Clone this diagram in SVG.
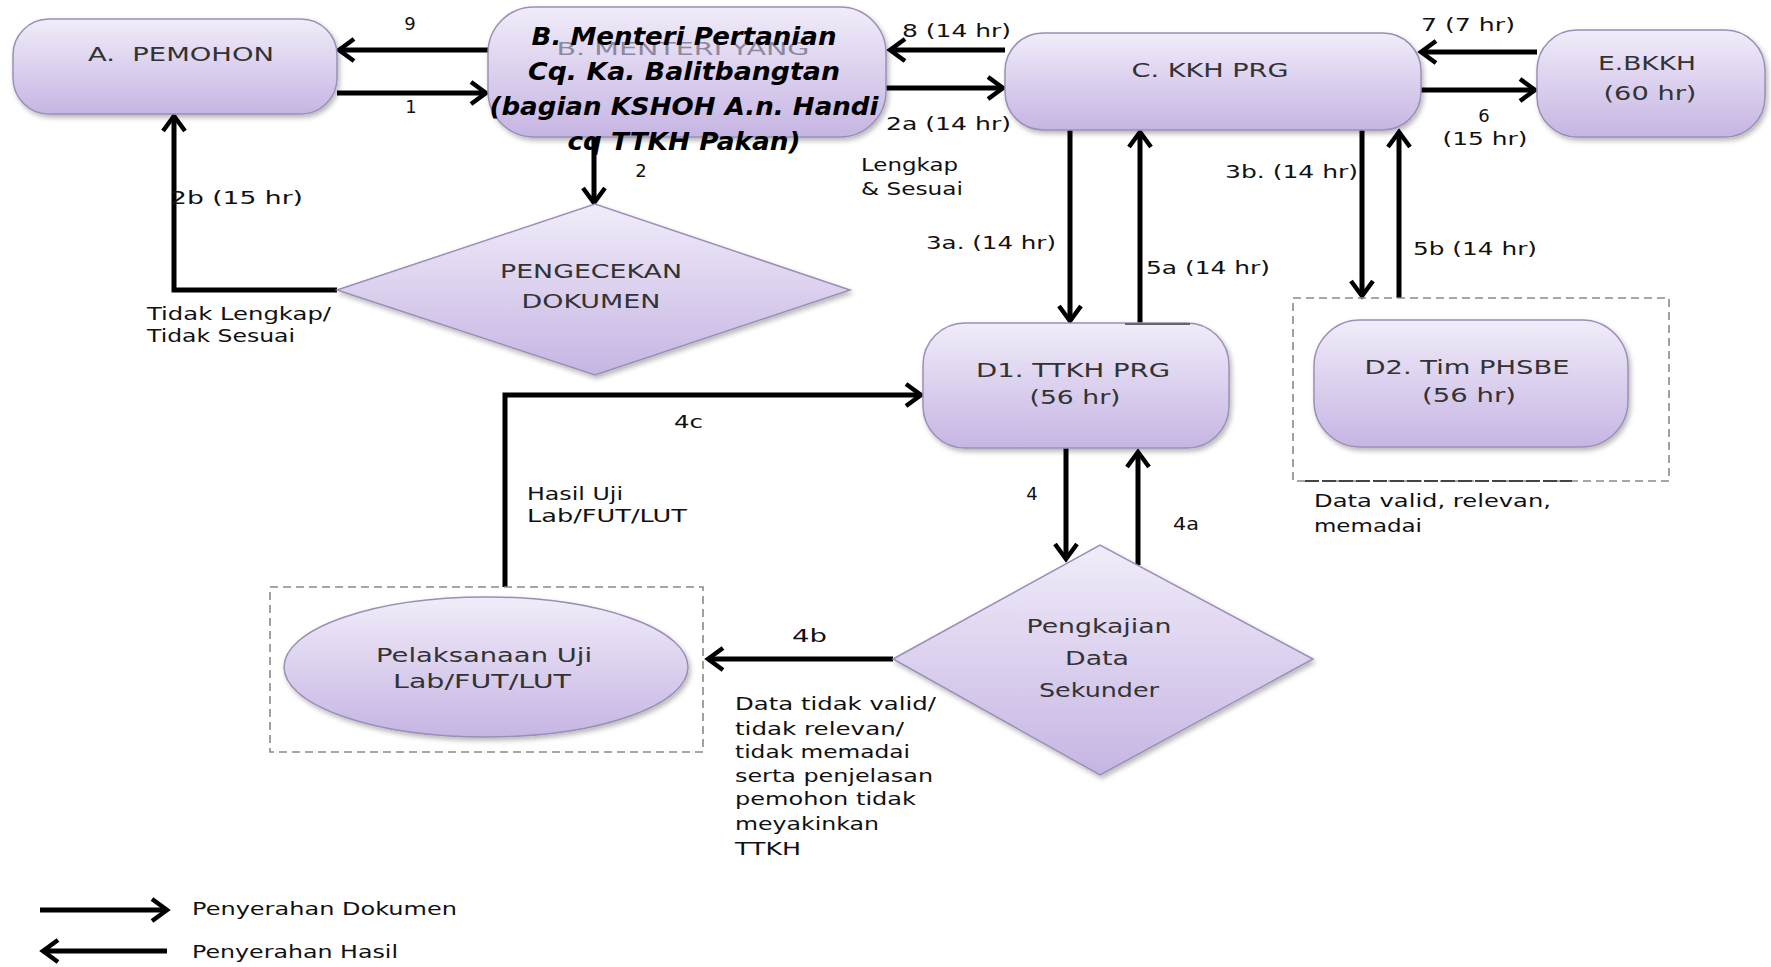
<svg xmlns="http://www.w3.org/2000/svg" width="1771" height="967" viewBox="0 0 1771 967">
<defs>
<linearGradient id="g" x1="0" y1="0" x2="0" y2="1">
<stop offset="0" stop-color="#f1ecf9"/>
<stop offset="1" stop-color="#c6b5e3"/>
</linearGradient>
<filter id="sh" x="-10%" y="-10%" width="125%" height="135%">
<feDropShadow dx="2" dy="3" stdDeviation="2.5" flood-color="#000" flood-opacity="0.28"/>
</filter>
<marker id="ah" markerUnits="userSpaceOnUse" markerWidth="26" markerHeight="30" refX="20" refY="15" orient="auto" overflow="visible">
<path d="M5,4 L20,15 L5,26" fill="none" stroke="#000" stroke-width="4.5"/>
</marker>
<style>
.node{fill:url(#g);stroke:#9a8fb6;stroke-width:1.5;filter:url(#sh)}
.nt{font-family:"DejaVu Sans",Verdana,sans-serif;font-size:19px;fill:#333}
.lb{font-family:"DejaVu Sans",Verdana,sans-serif;font-size:18px;fill:#111}
.bt{font-family:"DejaVu Sans",Verdana,sans-serif;font-size:25px;font-weight:bold;font-style:italic;fill:#000}
.ft{font-family:"DejaVu Sans",Verdana,sans-serif;font-size:18px;fill:#8d87a0}
.c{fill:none;stroke:#000;stroke-width:5;marker-end:url(#ah)}
.dash{fill:none;stroke:#8a8a8a;stroke-width:1.6;stroke-dasharray:8 5}
</style>
</defs>
<rect width="1771" height="967" fill="#fff"/>

<g id="connectors">
<path class="c" d="M488,50 L339,50"/>
<path class="c" d="M337,93 L486,93"/>
<path class="c" d="M594,137 L594,203"/>
<path class="c" d="M337,290 L174,290 L174,116"/>
<path class="c" d="M1005,50 L890,50"/>
<path class="c" d="M886,88 L1003,88"/>
<path class="c" d="M1537,52 L1421,52"/>
<path class="c" d="M1421,90 L1535,90"/>
<path class="c" d="M1070,130 L1070,321"/>
<path class="c" d="M1140,323 L1140,132"/>
<path class="c" d="M1362,130 L1362,296"/>
<path class="c" d="M1399,298 L1399,132"/>
<path class="c" d="M1066,448 L1066,559"/>
<path class="c" d="M1138,565 L1138,452"/>
<path class="c" d="M893,659 L708,659"/>
<path class="c" d="M505,587 L505,395 L921,395"/>
<path class="c" d="M40,910 L167,910"/>
<path class="c" d="M167,951 L43,951"/>
</g>

<g id="labels">
<text class="lb" x="410" y="30" text-anchor="middle">9</text>
<text class="lb" x="411" y="113" text-anchor="middle">1</text>
<text class="lb" x="641" y="177" text-anchor="middle">2</text>
<text class="lb" x="170" y="204" textLength="133" lengthAdjust="spacingAndGlyphs">2b (15 hr)</text>
<text class="lb" x="147" y="320" textLength="184" lengthAdjust="spacingAndGlyphs">Tidak Lengkap/</text>
<text class="lb" x="147" y="342" textLength="148" lengthAdjust="spacingAndGlyphs">Tidak Sesuai</text>
<text class="lb" x="902" y="37" textLength="109" lengthAdjust="spacingAndGlyphs">8 (14 hr)</text>
<text class="lb" x="886" y="130" textLength="125" lengthAdjust="spacingAndGlyphs">2a (14 hr)</text>
<text class="lb" x="861" y="171" textLength="97" lengthAdjust="spacingAndGlyphs">Lengkap</text>
<text class="lb" x="861" y="195" textLength="102" lengthAdjust="spacingAndGlyphs">&amp; Sesuai</text>
<text class="lb" x="1421" y="31" textLength="94" lengthAdjust="spacingAndGlyphs">7 (7 hr)</text>
<text class="lb" x="1484" y="122" text-anchor="middle">6</text>
<text class="lb" x="1485" y="145" text-anchor="middle" textLength="85" lengthAdjust="spacingAndGlyphs">(15 hr)</text>
<text class="lb" x="926" y="249" textLength="130" lengthAdjust="spacingAndGlyphs">3a. (14 hr)</text>
<text class="lb" x="1146" y="274" textLength="124" lengthAdjust="spacingAndGlyphs">5a (14 hr)</text>
<text class="lb" x="1225" y="178" textLength="133" lengthAdjust="spacingAndGlyphs">3b. (14 hr)</text>
<text class="lb" x="1413" y="255" textLength="124" lengthAdjust="spacingAndGlyphs">5b (14 hr)</text>
<text class="lb" x="1032" y="500" text-anchor="middle">4</text>
<text class="lb" x="1173" y="530" textLength="26" lengthAdjust="spacingAndGlyphs">4a</text>
<text class="lb" x="1314" y="507" textLength="237" lengthAdjust="spacingAndGlyphs">Data valid, relevan,</text>
<text class="lb" x="1314" y="532" textLength="108" lengthAdjust="spacingAndGlyphs">memadai</text>
<text class="lb" x="792" y="642" textLength="35" lengthAdjust="spacingAndGlyphs">4b</text>
<text class="lb" x="735" y="710" textLength="201" lengthAdjust="spacingAndGlyphs">Data tidak valid/</text>
<text class="lb" x="735" y="735" textLength="169" lengthAdjust="spacingAndGlyphs">tidak relevan/</text>
<text class="lb" x="735" y="758" textLength="175" lengthAdjust="spacingAndGlyphs">tidak memadai</text>
<text class="lb" x="735" y="782" textLength="198" lengthAdjust="spacingAndGlyphs">serta penjelasan</text>
<text class="lb" x="735" y="805" textLength="181" lengthAdjust="spacingAndGlyphs">pemohon tidak</text>
<text class="lb" x="735" y="830" textLength="144" lengthAdjust="spacingAndGlyphs">meyakinkan</text>
<text class="lb" x="735" y="855" textLength="66" lengthAdjust="spacingAndGlyphs">TTKH</text>
<text class="lb" x="674" y="428" textLength="29" lengthAdjust="spacingAndGlyphs">4c</text>
<text class="lb" x="527" y="500" textLength="96" lengthAdjust="spacingAndGlyphs">Hasil Uji</text>
<text class="lb" x="527" y="522" textLength="160" lengthAdjust="spacingAndGlyphs">Lab/FUT/LUT</text>
</g>

<g id="nodeA">
<rect class="node" x="13" y="19" width="324" height="95" rx="36"/>
<text class="nt" x="181" y="61" text-anchor="middle" textLength="186" lengthAdjust="spacingAndGlyphs" xml:space="preserve">A.  PEMOHON</text>
</g>

<g id="nodeB">
<rect class="node" x="488" y="7" width="398" height="130" rx="46"/>
<text class="ft" x="683" y="55" text-anchor="middle" textLength="253" lengthAdjust="spacingAndGlyphs">B. MENTERI YANG</text>
<text class="bt" x="684" y="45" text-anchor="middle" textLength="305" lengthAdjust="spacingAndGlyphs">B. Menteri Pertanian</text>
<text class="bt" x="684" y="80" text-anchor="middle" textLength="312" lengthAdjust="spacingAndGlyphs">Cq. Ka. Balitbangtan</text>
<text class="bt" x="684" y="115" text-anchor="middle" textLength="389" lengthAdjust="spacingAndGlyphs">(bagian KSHOH A.n. Handi</text>
<text class="bt" x="684" y="150" text-anchor="middle" textLength="233" lengthAdjust="spacingAndGlyphs">cq TTKH Pakan)</text>
</g>

<g id="nodeCek">
<polygon class="node" points="337,290 595,204 850,290 595,375"/>
<text class="nt" x="591" y="278" text-anchor="middle" textLength="182" lengthAdjust="spacingAndGlyphs">PENGECEKAN</text>
<text class="nt" x="591" y="308" text-anchor="middle" textLength="139" lengthAdjust="spacingAndGlyphs">DOKUMEN</text>
</g>

<g id="nodeC">
<rect class="node" x="1005" y="33" width="416" height="97" rx="38"/>
<text class="nt" x="1210" y="77" text-anchor="middle" textLength="157" lengthAdjust="spacingAndGlyphs">C. KKH PRG</text>
</g>

<g id="nodeE">
<rect class="node" x="1537" y="30" width="228" height="107" rx="40"/>
<text class="nt" x="1647" y="70" text-anchor="middle" textLength="98" lengthAdjust="spacingAndGlyphs">E.BKKH</text>
<text class="nt" x="1650" y="100" text-anchor="middle" textLength="93" lengthAdjust="spacingAndGlyphs">(60 hr)</text>
</g>

<g id="nodeD1">
<rect class="node" x="923" y="323" width="306" height="125" rx="42"/>
<line x1="1125" y1="324" x2="1190" y2="324" stroke="#666" stroke-width="2"/>
<text class="nt" x="1073" y="377" text-anchor="middle" textLength="194" lengthAdjust="spacingAndGlyphs">D1. TTKH PRG</text>
<text class="nt" x="1075" y="404" text-anchor="middle" textLength="91" lengthAdjust="spacingAndGlyphs">(56 hr)</text>
</g>

<g id="nodeD2">
<rect class="dash" x="1293" y="298" width="376" height="183"/>
<line x1="1305" y1="481" x2="1572" y2="481" stroke="#444" stroke-width="2" stroke-dasharray="14 3"/>
<rect class="node" x="1314" y="320" width="314" height="127" rx="46"/>
<text class="nt" x="1467" y="374" text-anchor="middle" textLength="205" lengthAdjust="spacingAndGlyphs">D2. Tim PHSBE</text>
<text class="nt" x="1469" y="402" text-anchor="middle" textLength="94" lengthAdjust="spacingAndGlyphs">(56 hr)</text>
</g>

<g id="nodeKaji">
<polygon class="node" points="893,659 1100,545 1313,659 1100,775"/>
<text class="nt" x="1099" y="633" text-anchor="middle" textLength="145" lengthAdjust="spacingAndGlyphs">Pengkajian</text>
<text class="nt" x="1097" y="665" text-anchor="middle" textLength="64" lengthAdjust="spacingAndGlyphs">Data</text>
<text class="nt" x="1099" y="697" text-anchor="middle" textLength="120" lengthAdjust="spacingAndGlyphs">Sekunder</text>
</g>

<g id="nodeUji">
<rect class="dash" x="270" y="587" width="433" height="165"/>
<ellipse class="node" cx="486" cy="667" rx="202" ry="70"/>
<text class="nt" x="484" y="662" text-anchor="middle" textLength="216" lengthAdjust="spacingAndGlyphs">Pelaksanaan Uji</text>
<text class="nt" x="482" y="688" text-anchor="middle" textLength="178" lengthAdjust="spacingAndGlyphs">Lab/FUT/LUT</text>
</g>

<g id="legend">
<text class="lb" x="192" y="915" textLength="265" lengthAdjust="spacingAndGlyphs">Penyerahan Dokumen</text>
<text class="lb" x="192" y="958" textLength="206" lengthAdjust="spacingAndGlyphs">Penyerahan Hasil</text>
</g>
</svg>
